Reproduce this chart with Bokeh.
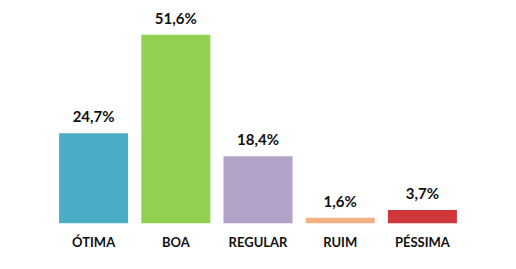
from bokeh.plotting import figure
from bokeh.models import ColumnDataSource, Range1d
from bokeh.core.properties import value
from bokeh.embed import file_html
from bokeh.resources import INLINE

categories = ["ÓTIMA", "BOA", "REGULAR", "RUIM", "PÉSSIMA"]
values = [24.7, 51.6, 18.4, 1.6, 3.7]
labels = ["24,7%", "51,6%", "18,4%", "1,6%", "3,7%"]
colors = ["#4BACC6", "#92D050", "#B2A2C7", "#F5B183", "#D0373A"]

src = ColumnDataSource(dict(cat=categories, val=values, lab=labels, col=colors))

p = figure(x_range=categories, y_range=Range1d(0, 61.0), width=516, height=269,
           output_backend="svg", toolbar_location=None,
           min_border_left=52, min_border_right=53, min_border_top=0, min_border_bottom=46)
p.vbar(x="cat", top="val", width=0.84, fill_color="col", line_color=None, source=src)
p.text(x="cat", y="val", text="lab", source=src, text_align="center", text_baseline="bottom",
       y_offset=-8, text_font=value("Lato"), text_font_style="bold", text_font_size="15px",
       text_color="#111111")

p.yaxis.visible = False
p.xgrid.visible = False
p.ygrid.visible = False
p.outline_line_color = None
p.xaxis.axis_line_color = None
p.xaxis.major_tick_line_color = None
p.xaxis.minor_tick_line_color = None
p.xaxis.major_tick_out = 0
p.xaxis.major_tick_in = 0
p.xaxis.major_label_standoff = 10
p.xaxis.major_label_text_font = "Lato"
p.xaxis.major_label_text_font_style = "bold"
p.xaxis.major_label_text_font_size = "13px"
p.xaxis.major_label_text_color = "#111111"
p.background_fill_color = "white"
p.border_fill_color = "white"

open("out.html", "w").write(file_html(p, INLINE))
